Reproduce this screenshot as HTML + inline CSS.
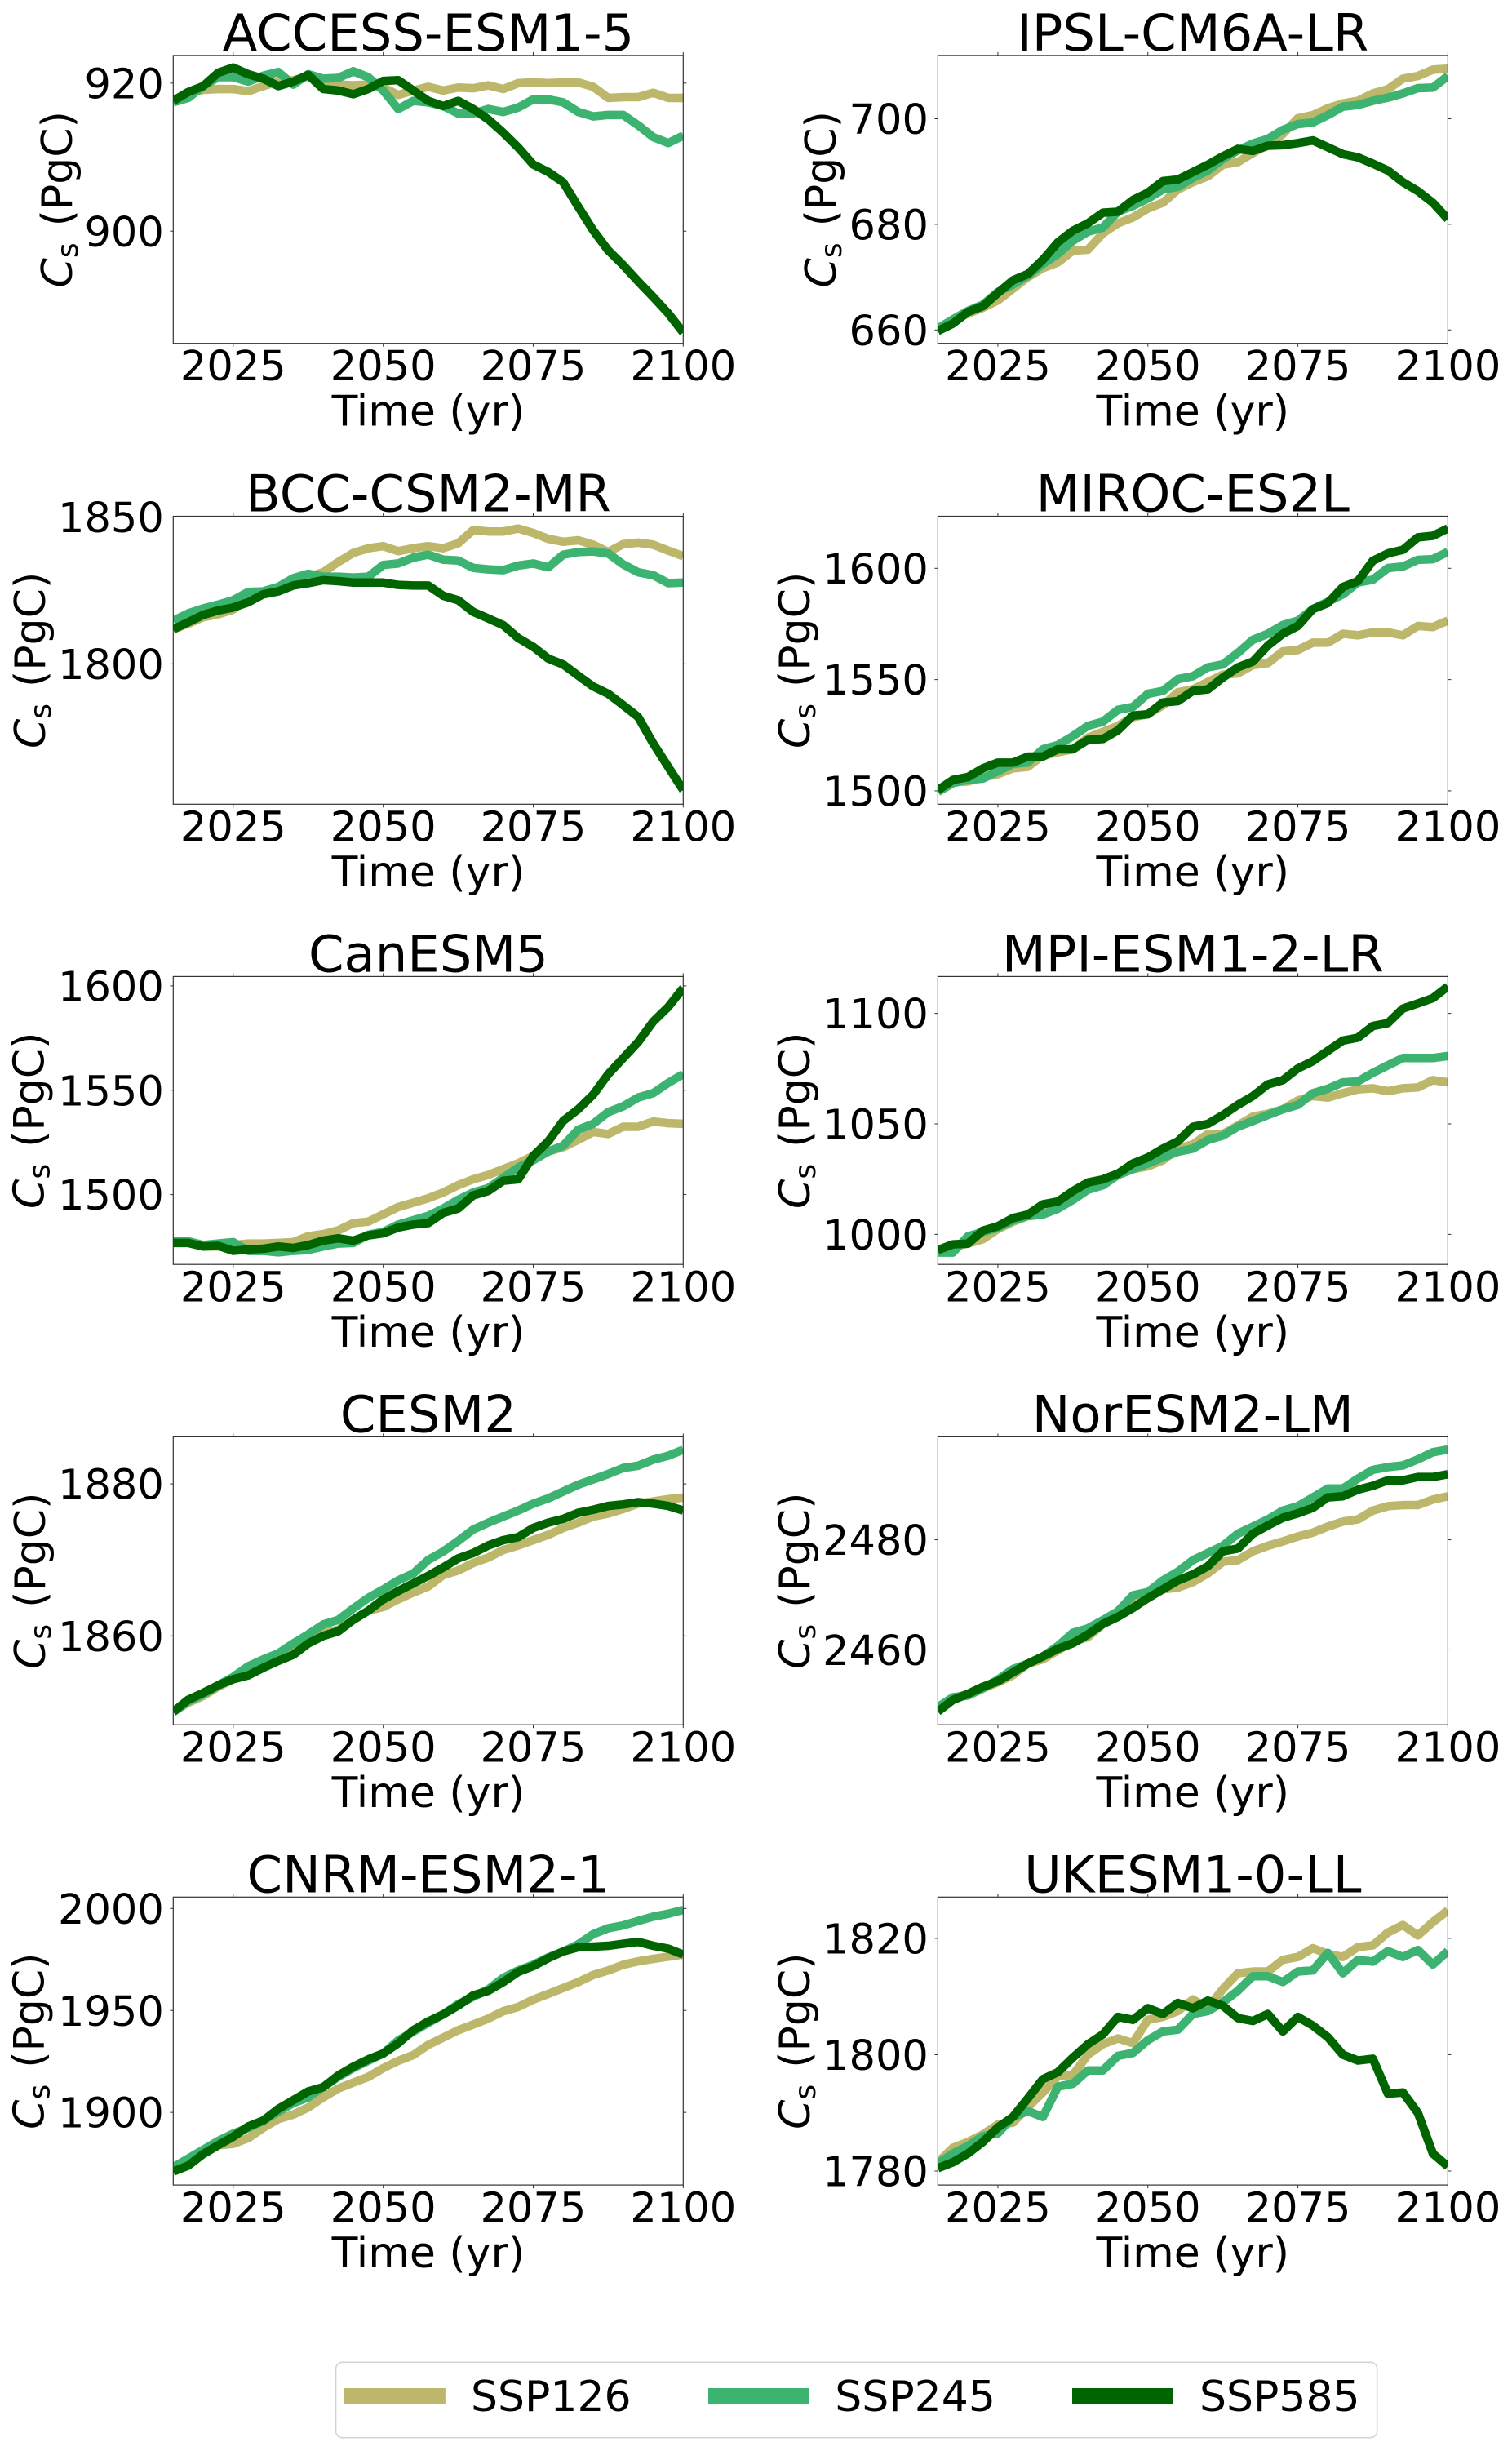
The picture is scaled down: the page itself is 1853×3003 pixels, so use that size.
<!DOCTYPE html>
<html lang="en">
<head>
<meta charset="utf-8">
<title>Soil carbon projections by model</title>
<style>
  html, body { margin: 0; padding: 0; background: #fff; }
  svg { display: block; font-family: "DejaVu Sans", "Liberation Sans", sans-serif; fill: #000; }
  .t { font-size: 62.4px; text-anchor: middle; }
  .xl { font-size: 52px; text-anchor: middle; }
  .yl { font-size: 52px; text-anchor: middle; }
  .yl .sub { font-size: 36px; }
  .lg { font-size: 52px; }
</style>
</head>
<body>
<svg id="figure" xmlns="http://www.w3.org/2000/svg" width="1853" height="3003" viewBox="0 0 1853 3003">
  <defs id="clips"></defs>

  <g id="p0">
    <text class="t" x="524.9" y="62">ACCESS-ESM1-5</text>
    <text class="xl" x="524.9" y="521.4">Time (yr)</text>
    <text class="yl" transform="translate(88 244.3) rotate(-90)"><tspan font-style="italic">C</tspan><tspan class="sub" dy="7">s</tspan><tspan dy="-7" dx="20">(PgC)</tspan></text>
  </g>
  <g id="p1">
    <text class="t" x="1461.8" y="62">IPSL-CM6A-LR</text>
    <text class="xl" x="1461.8" y="521.4">Time (yr)</text>
    <text class="yl" transform="translate(1024 244.3) rotate(-90)"><tspan font-style="italic">C</tspan><tspan class="sub" dy="7">s</tspan><tspan dy="-7" dx="20">(PgC)</tspan></text>
  </g>
  <g id="p2">
    <text class="t" x="524.9" y="626.5">BCC-CSM2-MR</text>
    <text class="xl" x="524.9" y="1086">Time (yr)</text>
    <text class="yl" transform="translate(55 808.9) rotate(-90)"><tspan font-style="italic">C</tspan><tspan class="sub" dy="7">s</tspan><tspan dy="-7" dx="20">(PgC)</tspan></text>
  </g>
  <g id="p3">
    <text class="t" x="1461.8" y="626.5">MIROC-ES2L</text>
    <text class="xl" x="1461.8" y="1086">Time (yr)</text>
    <text class="yl" transform="translate(991.8 808.9) rotate(-90)"><tspan font-style="italic">C</tspan><tspan class="sub" dy="7">s</tspan><tspan dy="-7" dx="20">(PgC)</tspan></text>
  </g>
  <g id="p4">
    <text class="t" x="524.9" y="1190.5">CanESM5</text>
    <text class="xl" x="524.9" y="1650">Time (yr)</text>
    <text class="yl" transform="translate(53.6 1372.8) rotate(-90)"><tspan font-style="italic">C</tspan><tspan class="sub" dy="7">s</tspan><tspan dy="-7" dx="20">(PgC)</tspan></text>
  </g>
  <g id="p5">
    <text class="t" x="1461.8" y="1190.5">MPI-ESM1-2-LR</text>
    <text class="xl" x="1461.8" y="1650">Time (yr)</text>
    <text class="yl" transform="translate(991.8 1372.8) rotate(-90)"><tspan font-style="italic">C</tspan><tspan class="sub" dy="7">s</tspan><tspan dy="-7" dx="20">(PgC)</tspan></text>
  </g>
  <g id="p6">
    <text class="t" x="524.9" y="1754.5">CESM2</text>
    <text class="xl" x="524.9" y="2214">Time (yr)</text>
    <text class="yl" transform="translate(55 1936.8) rotate(-90)"><tspan font-style="italic">C</tspan><tspan class="sub" dy="7">s</tspan><tspan dy="-7" dx="20">(PgC)</tspan></text>
  </g>
  <g id="p7">
    <text class="t" x="1461.8" y="1754.5">NorESM2-LM</text>
    <text class="xl" x="1461.8" y="2214">Time (yr)</text>
    <text class="yl" transform="translate(991.8 1936.8) rotate(-90)"><tspan font-style="italic">C</tspan><tspan class="sub" dy="7">s</tspan><tspan dy="-7" dx="20">(PgC)</tspan></text>
  </g>
  <g id="p8">
    <text class="t" x="524.9" y="2318.5">CNRM-ESM2-1</text>
    <text class="xl" x="524.9" y="2778">Time (yr)</text>
    <text class="yl" transform="translate(53.6 2500.7) rotate(-90)"><tspan font-style="italic">C</tspan><tspan class="sub" dy="7">s</tspan><tspan dy="-7" dx="20">(PgC)</tspan></text>
  </g>
  <g id="p9">
    <text class="t" x="1461.8" y="2318.5">UKESM1-0-LL</text>
    <text class="xl" x="1461.8" y="2778">Time (yr)</text>
    <text class="yl" transform="translate(991.8 2500.7) rotate(-90)"><tspan font-style="italic">C</tspan><tspan class="sub" dy="7">s</tspan><tspan dy="-7" dx="20">(PgC)</tspan></text>
  </g>

  <g id="legend">
    <rect x="411.6" y="2894.3" width="1276.1" height="92.4" rx="8" ry="8" fill="#fff" stroke="#d4d4d4" stroke-width="1.6"></rect>
    <g>
      <rect x="421.9" y="2926" width="124" height="20" fill="#BDB76B"></rect>
      <text class="lg" x="577" y="2954">SSP126</text>
    </g>
    <g>
      <rect x="868" y="2926" width="124" height="20" fill="#3CB371"></rect>
      <text class="lg" x="1023.3" y="2954">SSP245</text>
    </g>
    <g>
      <rect x="1314" y="2926" width="124" height="20" fill="#006400"></rect>
      <text class="lg" x="1470" y="2954">SSP585</text>
    </g>
  </g>
</svg>

<script>
// ---------- Shared data ----------
const years = [2015,2017.5,2020,2022.5,2025,2027.5,2030,2032.5,2035,2037.5,2040,2042.5,2045,2047.5,2050,2052.5,2055,2057.5,2060,2062.5,2065,2067.5,2070,2072.5,2075,2077.5,2080,2082.5,2085,2087.5,2090,2092.5,2095,2097.5,2100];
const xTicks = [2025,2050,2075,2100];
const xLimits = [2015,2100];

// ---------- ACCESS-ESM1-5 ----------
const accessTicks = [900,920];
const accessLimits = [884.84,923.74];
const accessSsp126 = [917.6,918.6,919.1,919.2,919.2,918.9,919.6,920.2,920.4,920.9,919.8,919.8,919.7,919.8,919.4,918.4,919.0,919.5,919.0,919.4,919.3,919.7,919.2,920.0,920.1,920.0,920.1,920.1,919.5,918.0,918.1,918.1,918.7,918.0,918.0];
const accessSsp245 = [917.4,918.0,919.6,920.8,920.8,920.2,921.0,921.5,919.8,921.2,920.6,920.7,921.6,920.8,919.0,916.5,917.6,917.4,916.9,915.9,915.9,916.5,916.1,916.7,917.8,917.8,917.4,916.1,915.5,915.7,915.7,914.3,912.7,911.9,912.9];
const accessSsp585 = [917.6,918.8,919.6,921.4,922.1,921.2,920.6,919.6,920.2,921.1,919.2,919.0,918.5,919.2,920.3,920.4,919.0,917.6,916.9,917.6,916.5,915.1,913.3,911.3,909.0,908.0,906.6,903.3,900.1,897.4,895.4,893.2,891.1,888.9,886.3];

// ---------- IPSL-CM6A-LR ----------
const ipslTicks = [660,680,700];
const ipslLimits = [657.46,712];
const ipslSsp126 = [660.1,661.7,663.1,664.2,665.6,667.8,670,671.7,672.8,675,675.2,678.3,680.2,681.3,683,684.1,686.6,688,689.1,691.3,691.8,693.5,695.1,697.1,700.1,700.7,702,702.9,703.4,704.8,705.6,707.6,708.1,709.3,709.5];
const ipslSsp245 = [660.3,662,663.6,664.8,667.2,668.6,670.3,672.5,674.4,676.9,678.6,679.4,682.4,683.5,684.9,686.6,687.1,688.8,690.2,692.4,694,695.3,696.2,697.9,699,699.3,700.7,702.3,702.6,703.4,704,704.8,705.8,705.9,708.1];
const ipslSsp585 = [659.8,661.2,663.4,664.5,667,669.4,670.6,673.3,676.6,678.8,680.2,682.2,682.4,684.6,686,688.2,688.5,689.9,691.3,692.9,694.3,693.9,694.9,695,695.4,695.9,694.6,693.3,692.7,691.5,690.2,688,686.3,684.1,681];

// ---------- BCC-CSM2-MR ----------
const bccTicks = [1800,1850];
const bccLimits = [1752.2,1850.3];
const bccSsp126 = [1811.8,1813.7,1815.9,1816.9,1818.5,1822.7,1824.7,1826.2,1828.7,1829.7,1831.2,1834.7,1837.8,1839.4,1840.1,1838.4,1839.4,1840.1,1839.4,1841.1,1845.6,1845.1,1845.1,1846.1,1844.6,1842.6,1841.6,1842.1,1840.6,1838.1,1840.8,1841.3,1840.6,1838.6,1836.7];
const bccSsp245 = [1814.7,1817.2,1818.9,1820.2,1821.7,1824.5,1824.7,1826.2,1829.2,1830.7,1829.7,1829.7,1829.4,1829.7,1833.7,1834.2,1836.2,1837.2,1835.5,1835.2,1832.7,1832.2,1831.9,1833.5,1834.2,1832.9,1837.2,1838.1,1838.3,1837.6,1833.9,1831.2,1830.2,1827.5,1827.7];
const bccSsp585 = [1811.8,1814.2,1816.7,1818.2,1819.2,1821,1823.7,1824.7,1826.7,1827.5,1828.5,1828.2,1827.7,1827.7,1827.7,1826.9,1826.7,1826.7,1823.2,1821.7,1817.7,1815.5,1813.2,1808.8,1805.8,1801.8,1799.8,1796,1792.3,1789.8,1785.9,1781.9,1772.9,1764.9,1757];

// ---------- MIROC-ES2L ----------
const mirocTicks = [1500,1550,1600];
const mirocLimits = [1494,1623.4];
const mirocSsp126 = [1500.3,1504.2,1504.2,1506.2,1507.5,1510.1,1510.8,1516,1517.3,1518.7,1523.9,1526.5,1529.2,1533.1,1534.4,1538.4,1544.3,1545.6,1548.9,1552.2,1552.8,1556.5,1557.4,1562.7,1563.3,1566.6,1566.6,1570.6,1569.9,1571.2,1571.2,1569.9,1574.1,1573.6,1576.5];
const mirocSsp245 = [1499.6,1503.5,1504.9,1505.5,1508.8,1512.1,1512.7,1518.7,1520.6,1524.6,1529.2,1531.1,1536.4,1537.7,1543.6,1544.9,1550.2,1551.5,1555.5,1556.8,1562,1567.9,1570.6,1574.5,1576.5,1581.7,1585,1588.3,1593.6,1594.9,1600.1,1600.8,1603.8,1604.1,1607.4];
const mirocSsp585 = [1500.3,1504.9,1506.2,1510.1,1512.7,1512.7,1515.4,1515.4,1518.7,1518.7,1522.9,1523.3,1527.2,1533.8,1534.4,1539.7,1540.3,1544.9,1545.6,1550.9,1555.5,1558.1,1565.3,1570.6,1574.1,1581.7,1584.4,1591.6,1594.2,1603.4,1606.7,1608.3,1613.9,1614.6,1617.9];

// ---------- CanESM5 ----------
const canTicks = [1500,1550,1600];
const canLimits = [1466.5,1604.5];
const canSsp126 = [1477.6,1477.2,1475.1,1475.1,1475.8,1476.5,1476.5,1476.8,1477.2,1480,1481,1482.8,1486.3,1487,1490.5,1494,1496.1,1498.2,1501,1504.5,1507.3,1509.4,1512.2,1515,1518.5,1520.6,1522.7,1526.2,1530,1529,1532.5,1532.5,1535,1534.2,1533.9];
const canSsp245 = [1477.6,1477.6,1475.8,1476.5,1477.2,1473,1473,1472.3,1473,1473.4,1475.1,1476.5,1476.8,1480.7,1482.1,1485.6,1487.7,1489.8,1493.3,1497.5,1501,1503.1,1508,1512.9,1516.4,1520.6,1523.4,1531.1,1533.9,1539.5,1542.3,1546.5,1548.6,1553.5,1557.7];
const canSsp585 = [1476.8,1476.8,1475.1,1475.4,1473,1473.7,1474,1475.1,1474.4,1475.8,1477.9,1479,1477.9,1480.4,1481.4,1484.2,1485.6,1486.3,1491.2,1493.3,1499.6,1501.7,1506.6,1507.3,1518.5,1525.5,1535.3,1540.9,1547.9,1557.7,1565.4,1573.1,1582.9,1589.9,1599];

// ---------- MPI-ESM1-2-LR ----------
const mpiTicks = [1000,1050,1100];
const mpiLimits = [986.4,1116.7];
const mpiSsp126 = [992.5,994.4,995.8,997.8,1002.4,1005.7,1008.3,1009,1012.3,1016.3,1021.6,1024.2,1027.5,1029.5,1030.8,1033.5,1038.8,1040.7,1045.4,1045.4,1049.3,1053.3,1054.6,1056.6,1060.6,1062.6,1061.9,1063.9,1065.6,1066.1,1064.8,1066.1,1066.5,1069.8,1068.8];
const mpiSsp245 = [991.8,991.8,999.1,1001.1,1003,1006.3,1008.3,1009,1011.6,1015.6,1020.2,1022.2,1026.9,1029.5,1032.1,1034.8,1037.4,1038.8,1042.7,1044.7,1048.7,1051.3,1054,1056.6,1058.6,1063.9,1065.9,1068.8,1069.2,1073.1,1076.5,1079.8,1079.8,1079.8,1080.7];
const mpiSsp585 = [992.9,995.5,995.8,1001.7,1003.7,1007.4,1009,1013.6,1014.9,1019.6,1023.5,1024.9,1027.5,1032.1,1034.8,1038.8,1042.1,1048.7,1050,1054,1058.6,1062.6,1067.9,1069.8,1075.1,1078.4,1083.1,1087.7,1089,1094.3,1095.6,1102.2,1104.5,1106.9,1112.2];

// ---------- CESM2 ----------
const cesmTicks = [1860,1880];
const cesmLimits = [1848.3,1886.2];
const cesmSsp126 = [1850,1851.2,1852.1,1853.3,1854.3,1855,1856,1856.9,1858.1,1859.2,1860.4,1860.8,1862.1,1863.3,1863.8,1864.8,1865.7,1866.5,1868,1868.6,1869.6,1870.3,1871.3,1871.9,1872.6,1873.3,1874.2,1874.9,1875.7,1876.1,1876.7,1877.4,1877.7,1878,1878.2];
const cesmSsp245 = [1850,1851.4,1852.3,1853.5,1854.6,1856,1856.9,1857.7,1859,1860.2,1861.5,1862.1,1863.6,1865,1866.1,1867.3,1868.2,1870,1871.1,1872.5,1874,1874.9,1875.7,1876.5,1877.4,1878.1,1879,1879.9,1880.6,1881.3,1882.1,1882.4,1883.2,1883.7,1884.5];
const cesmSsp585 = [1850,1851.6,1852.5,1853.5,1854.3,1854.8,1855.8,1856.7,1857.5,1859,1860,1860.6,1862.1,1863.3,1864.8,1865.9,1866.9,1867.9,1869,1870.2,1870.9,1871.9,1872.6,1873,1874.2,1874.9,1875.4,1876.2,1876.6,1877.1,1877.3,1877.6,1877.4,1877.1,1876.5];

// ---------- NorESM2-LM ----------
const norTicks = [2460,2480];
const norLimits = [2446.4,2498.7];
const norSsp126 = [2448.8,2451.2,2452,2453,2454.1,2455.4,2457.5,2458.3,2459.9,2461.5,2462.3,2464.7,2466.2,2468.4,2469.7,2471,2471.3,2472.3,2473.9,2476,2476.3,2477.9,2478.9,2479.7,2480.6,2481.3,2482.4,2483.3,2483.7,2485.3,2486.1,2486.3,2486.3,2487.3,2487.9];
const norSsp245 = [2449.6,2451.4,2451.7,2453,2454.6,2456.5,2457.5,2458.8,2460.7,2463.1,2463.9,2465.4,2467,2469.9,2470.5,2472.6,2474.2,2476.3,2477.6,2478.9,2481.1,2482.4,2483.7,2485.3,2486.1,2487.7,2489.3,2489.3,2491.1,2492.7,2493.2,2493.5,2494.6,2495.9,2496.4];
const norSsp585 = [2448.8,2450.9,2452,2453.3,2454.3,2455.9,2457.5,2458.8,2460.2,2461.2,2462.8,2464.7,2466,2467.6,2469.4,2471,2472.6,2473.7,2475.2,2477.9,2478.4,2481.1,2482.6,2484,2484.8,2485.8,2487.7,2487.9,2489.1,2489.8,2490.8,2490.8,2491.4,2491.4,2491.9];

// ---------- CNRM-ESM2-1 ----------
const cnrmTicks = [1900,1950,2000];
const cnrmLimits = [1864.4,2005.6];
const cnrmSsp126 = [1871,1874.6,1879.6,1883.9,1884.6,1887.4,1892.4,1896.7,1898.9,1902.4,1907.4,1911.7,1914.6,1917.4,1921.7,1925.3,1928.1,1933.1,1936.7,1940.3,1943.1,1946,1949.6,1951.7,1955.3,1958.1,1961,1963.9,1967.4,1969.6,1972.4,1974.1,1975.3,1976.4,1977.4];
const cnrmSsp245 = [1873.1,1877.4,1881.7,1886,1889.6,1892.4,1896,1900.3,1904.6,1907.4,1912.4,1917.4,1921.7,1925.3,1928.9,1935.3,1939.6,1943.9,1948.1,1953.1,1956.7,1960.3,1966,1969.6,1972.4,1976,1978.9,1982.4,1987.4,1990.3,1991.7,1993.9,1996,1997.4,1999.3];
const cnrmSsp585 = [1871,1873.9,1879.6,1883.9,1888.1,1893.1,1896,1901.7,1906,1910.3,1912.4,1918.1,1922.4,1926,1928.9,1933.9,1940.3,1944.6,1948.1,1952.4,1957.4,1959.6,1963.9,1968.9,1971.7,1975.6,1978.9,1981,1981.3,1981.7,1982.7,1983.6,1981.7,1980.3,1977.4];

// ---------- UKESM1-0-LL ----------
const ukTicks = [1780,1800,1820];
const ukLimits = [1777.6,1827.1];
const ukSsp126 = [1781.5,1784,1785,1786.3,1788,1788.3,1791,1793.5,1796.3,1796.5,1800,1801.8,1802.8,1802,1806,1806.5,1807.5,1809.5,1808,1811.3,1814,1814.3,1814.3,1816.3,1816.8,1818.3,1817.3,1816.8,1818.5,1818.8,1821,1822.3,1820.5,1822.8,1824.8];
const ukSsp245 = [1781.3,1783,1784.3,1786,1786.5,1789.3,1790.3,1789.3,1794.5,1795,1797.3,1797.3,1799.8,1800.3,1802.5,1804,1804.3,1807,1807.5,1809,1811,1813.5,1813.5,1812.5,1814.3,1814.5,1817.5,1814,1816.3,1816,1817.8,1816.8,1818,1815.5,1817.8];
const ukSsp585 = [1780.5,1781.5,1783,1785,1787.5,1789.3,1792.5,1795.8,1797,1799.5,1801.8,1803.5,1806.5,1806,1808,1807,1808.9,1808,1809.3,1808.4,1806.3,1805.8,1807,1804,1806.5,1805,1803,1800,1799,1799.3,1793.3,1793.5,1790,1783,1780.8];

// ---------- Layout (not data) ----------
const colLeft = [212.3, 1149.4];
const rowTop = [67.9, 632.5, 1196.4, 1760.4, 2324.3];
const axW = 625, axH = 352.8;
const tickLen = 4, tickFont = 51;
const seriesNames = ['ssp126', 'ssp245', 'ssp585'];
const seriesColors = ['#BDB76B', '#3CB371', '#006400'];

const panels = [
  [accessTicks, accessLimits, [accessSsp126, accessSsp245, accessSsp585]],
  [ipslTicks, ipslLimits, [ipslSsp126, ipslSsp245, ipslSsp585]],
  [bccTicks, bccLimits, [bccSsp126, bccSsp245, bccSsp585]],
  [mirocTicks, mirocLimits, [mirocSsp126, mirocSsp245, mirocSsp585]],
  [canTicks, canLimits, [canSsp126, canSsp245, canSsp585]],
  [mpiTicks, mpiLimits, [mpiSsp126, mpiSsp245, mpiSsp585]],
  [cesmTicks, cesmLimits, [cesmSsp126, cesmSsp245, cesmSsp585]],
  [norTicks, norLimits, [norSsp126, norSsp245, norSsp585]],
  [cnrmTicks, cnrmLimits, [cnrmSsp126, cnrmSsp245, cnrmSsp585]],
  [ukTicks, ukLimits, [ukSsp126, ukSsp245, ukSsp585]]
];

const NS = 'http://www.w3.org/2000/svg';
function make(tag, parent, geom) {
  const node = document.createElementNS(NS, tag);
  for (const k in geom) node.setAttribute(k, geom[k]);
  parent.appendChild(node);
  return node;
}

panels.forEach(function (panel, idx) {
  const group = document.getElementById('p' + idx);
  const left = colLeft[idx % 2];
  const top = rowTop[Math.floor(idx / 2)];
  const bottom = top + axH;
  const right = left + axW;
  const yTicks = panel[0], yLim = panel[1], seriesList = panel[2];

  const xScale = function (v) { return left + (v - xLimits[0]) / (xLimits[1] - xLimits[0]) * axW; };
  const yScale = function (v) { return bottom - (v - yLim[0]) / (yLim[1] - yLim[0]) * axH; };

  // clip region
  const clip = make('clipPath', document.getElementById('clips'), { id: 'clip' + idx });
  make('rect', clip, { x: left, y: top, width: axW, height: axH });

  // series
  const lines = make('g', group, { 'clip-path': 'url(#clip' + idx + ')' });
  
  
  seriesList.forEach(function (values, s) {
    const pts = values.map(function (v, i) { return xScale(years[i]).toFixed(2) + ',' + yScale(v).toFixed(2); }).join(' ');
    const line = make('polyline', lines, { points: pts, fill: 'none', stroke: seriesColors[s], 'stroke-width': 10.5, 'stroke-linejoin': 'round', 'stroke-linecap': 'butt' });
    
    
  });

  // frame
  const frame = make('rect', group, { x: left, y: top, width: axW, height: axH, fill: 'none', stroke: '#333', 'stroke-width': 1.2 });
  
  

  // x ticks (bottom and top) and labels
  xTicks.forEach(function (t) {
    const x = xScale(t);
    const tb = make('line', group, { x1: x, x2: x, y1: bottom, y2: bottom + tickLen, stroke: '#333', 'stroke-width': 1 });
    
    
    const tt = make('line', group, { x1: x, x2: x, y1: top, y2: top - tickLen, stroke: '#333', 'stroke-width': 1 });
    
    
    const lab = make('text', group, { x: x, y: bottom + 45.4, 'text-anchor': 'middle', 'font-size': tickFont });
    
    
    lab.textContent = String(t);
  });

  // y ticks (left and right) and labels
  yTicks.forEach(function (t) {
    const y = yScale(t);
    const tl = make('line', group, { x1: left, x2: left - tickLen, y1: y, y2: y, stroke: '#333', 'stroke-width': 1 });
    
    
    const tr = make('line', group, { x1: right, x2: right + tickLen, y1: y, y2: y, stroke: '#333', 'stroke-width': 1 });
    
    
    const lab = make('text', group, { x: left - 11.5, y: y + tickFont * 0.364, 'text-anchor': 'end', 'font-size': tickFont });
    
    
    lab.textContent = String(t);
  });
});
</script>
</body>
</html>
